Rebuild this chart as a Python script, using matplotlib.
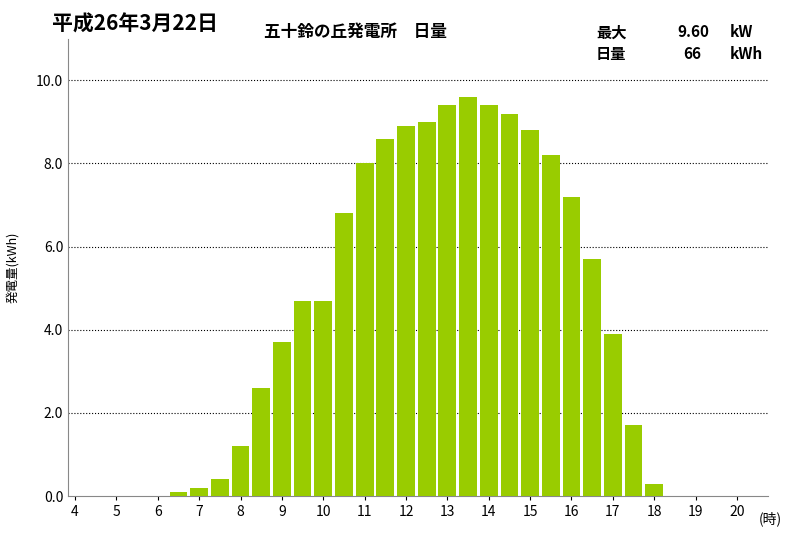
import matplotlib.pyplot as plt

plt.rcParams['font.family'] = ['Noto Sans CJK JP', 'DejaVu Sans']

hours = [6.5, 7, 7.5, 8, 8.5, 9, 9.5, 10, 10.5, 11, 11.5, 12, 12.5, 13,
         13.5, 14, 14.5, 15, 15.5, 16, 16.5, 17, 17.5, 18]
power = [0.1, 0.2, 0.4, 1.2, 2.6, 3.7, 4.7, 4.7, 6.8, 8.0, 8.6, 8.9, 9.0, 9.4,
         9.6, 9.4, 9.2, 8.8, 8.2, 7.2, 5.7, 3.9, 1.7, 0.3]
xticks = list(range(4, 21))
yticks = [0, 2, 4, 6, 8, 10]

fig = plt.figure(figsize=(8, 5.38), dpi=100)
ax = fig.add_axes([0.085, 0.078, 0.875, 0.85])

ax.bar(hours, power, width=0.43, color='#99CC00', zorder=3)
ax.set_xlim(3.83, 20.75)
ax.set_ylim(0, 11)
ax.set_xticks(xticks)
ax.set_xticklabels([str(h) for h in xticks], fontsize=10)
ax.set_yticks(yticks)
ax.set_yticklabels([f'{v:.1f}' for v in yticks], fontsize=10)
ax.tick_params(axis='x', length=3)
ax.tick_params(axis='y', length=0)
for y in yticks[1:]:
    ax.axhline(y, color='black', linestyle=':', linewidth=0.8, zorder=1)
for s in ['top', 'right']:
    ax.spines[s].set_visible(False)
ax.spines['left'].set_color('#888888')
ax.spines['bottom'].set_color('#888888')
ax.set_ylabel('発電量(kWh)', fontsize=9, labelpad=12)

fig.text(0.065, 0.955, '平成26年3月22日', fontsize=15, fontweight='bold', va='center')
fig.text(0.33, 0.94, '五十鈴の丘発電所\u3000日量', fontsize=12, fontweight='bold', va='center')
fig.text(0.745, 0.94, '最大', fontsize=11, fontweight='bold', va='center')
fig.text(0.745, 0.90, '日量', fontsize=11, fontweight='bold', va='center')
fig.text(0.887, 0.94, '9.60', fontsize=11, fontweight='bold', va='center', ha='right')
fig.text(0.877, 0.90, '66', fontsize=11, fontweight='bold', va='center', ha='right')
fig.text(0.912, 0.94, 'kW', fontsize=11, fontweight='bold', va='center')
fig.text(0.912, 0.90, 'kWh', fontsize=11, fontweight='bold', va='center')
fig.text(0.948, 0.035, '(時)', fontsize=10, va='center')

fig.savefig('out.png', dpi=100, facecolor='white')
